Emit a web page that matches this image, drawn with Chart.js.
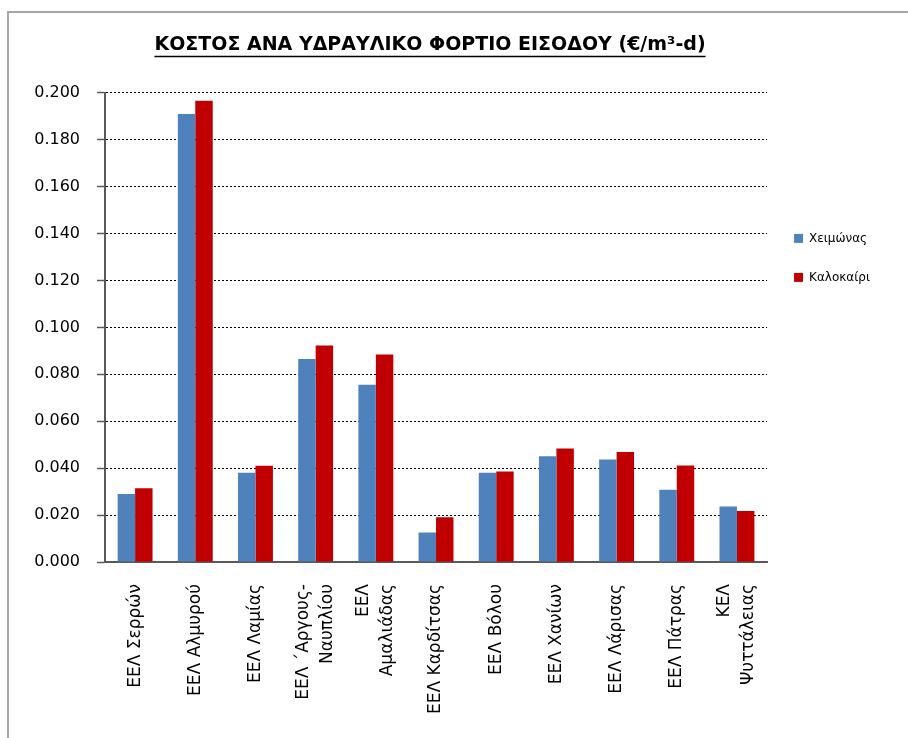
<!DOCTYPE html>
<html>
<head>
<meta charset="utf-8">
<script src="https://cdn.jsdelivr.net/npm/chart.js@4/dist/chart.umd.min.js"></script>
<style>
  html, body { margin: 0; padding: 0; background: #fff; overflow: hidden; }
  #frame {
    position: absolute; left: 7px; top: 11px; width: 930px; height: 760px;
    border-left: 2px solid #a6a6a6; border-top: 2px solid #a6a6a6;
  }
  #costChart { position: absolute; left: 0; top: 0; }
</style>
</head>
<body>
<div id="frame"></div>
<canvas id="costChart" width="908" height="738"></canvas>
<script>
// plants (multi-line names are split into arrays)
const plants = [
  'ΕΕΛ Σερρών',
  'ΕΕΛ Αλμυρού',
  'ΕΕΛ Λαμίας',
  ['ΕΕΛ ΄Αργους-', 'Ναυπλίου'],
  ['ΕΕΛ', 'Αμαλιάδας'],
  'ΕΕΛ Καρδίτσας',
  'ΕΕΛ Βόλου',
  'ΕΕΛ Χανίων',
  'ΕΕΛ Λάρισας',
  'ΕΕΛ Πάτρας',
  ['ΚΕΛ', 'Ψυττάλειας']
];

// cost per inflow, €/m3-d
const winter = [0.029, 0.191, 0.038, 0.0865, 0.0756, 0.0126, 0.038, 0.0451, 0.0437, 0.0308, 0.0237];
const summer = [0.0314, 0.1966, 0.041, 0.0923, 0.0884, 0.0191, 0.0386, 0.0484, 0.0469, 0.0411, 0.0217];

const yTicks = [0, 0.02, 0.04, 0.06, 0.08, 0.1, 0.12, 0.14, 0.16, 0.18, 0.2];

const titleText = 'ΚΟΣΤΟΣ ΑΝΑ ΥΔΡΑΥΛΙΚΟ ΦΟΡΤΙΟ ΕΙΣΟΔΟΥ (€/m³-d)';
const titleFont = { family: 'DejaVu Sans', size: 19, weight: 'bold' };

const xFontSize = 17;
const xLineHeight = 1.4;

// title is centred a bit left of the canvas centre and underlined
const titleUnderline = {
  id: 'titleUnderline',
  afterLayout(chart) {
    const tb = chart.titleBlock;
    tb.left = 0;
    tb.right = 860;
  },
  afterDraw(chart) {
    const tb = chart.titleBlock;
    const ctx = chart.ctx;
    ctx.save();
    ctx.font = `${titleFont.weight} ${titleFont.size}px "${titleFont.family}"`;
    const w = ctx.measureText(titleText).width;
    const cx = (tb.left + tb.right) / 2;
    const cy = tb.top + tb.options.padding.top + titleFont.size * 1.2 / 2;
    const y = Math.round(cy + titleFont.size * 0.55) + 0.5;
    ctx.strokeStyle = '#000';
    ctx.lineWidth = 1.5;
    ctx.beginPath();
    ctx.moveTo(cx - w / 2, y);
    ctx.lineTo(cx + w / 2, y);
    ctx.stroke();
    ctx.restore();
  }
};

// rotated two-line labels: centre the line block on the tick
const centerMultiline = {
  id: 'centerMultiline',
  beforeDraw(chart) {
    const items = chart.scales.x.getLabelItems();
    items.forEach(it => {
      if (Array.isArray(it.label) && !it._centered) {
        it.options.translation[0] -= (it.label.length - 1) * xFontSize * xLineHeight / 2;
        it._centered = true;
      }
    });
  }
};

const ctx = document.getElementById('costChart').getContext('2d');
new Chart(ctx, {
  type: 'bar',
  data: {
    labels: plants,
    datasets: [
      {
        label: 'Χειμώνας',
        data: winter,
        backgroundColor: '#4F81BD',
        categoryPercentage: 0.58,
        barPercentage: 1.0
      },
      {
        label: 'Καλοκαίρι',
        data: summer,
        backgroundColor: '#C00000',
        categoryPercentage: 0.58,
        barPercentage: 1.0
      }
    ]
  },
  options: {
    responsive: false,
    animation: false,
    layout: { padding: { left: 0, right: 28, top: 12, bottom: 0 } },
    plugins: {
      title: {
        display: true,
        text: titleText,
        color: '#000',
        font: titleFont,
        padding: { top: 22, bottom: 36 }
      },
      legend: {
        position: 'right',
        align: 'start',
        title: {
          display: true,
          text: ' ',
          font: { family: 'DejaVu Sans', size: 12 },
          padding: { top: 179, bottom: 0 }
        },
        labels: {
          boxWidth: 9,
          boxHeight: 9,
          padding: 27,
          color: '#000',
          font: { family: 'DejaVu Sans', size: 12 }
        }
      },
      tooltip: { enabled: false }
    },
    scales: {
      x: {
        grid: { display: false, drawTicks: false },
        border: { color: '#595959', width: 2 },
        ticks: {
          color: '#000',
          font: { family: 'DejaVu Sans', size: xFontSize, lineHeight: xLineHeight },
          minRotation: 90,
          maxRotation: 90,
          autoSkip: false,
          padding: 22
        },
        afterFit(s) { s.height = 176; }
      },
      y: {
        min: 0,
        max: 0.2,
        afterBuildTicks(s) { s.ticks = yTicks.map(v => ({ value: v })); },
        grid: {
          color: '#000',
          lineWidth: 1,
          tickLength: 8,
          tickColor: '#595959',
          tickWidth: 1.5,
          tickBorderDash: []
        },
        border: { color: '#595959', width: 2, dash: [2, 2] },
        ticks: {
          color: '#000',
          font: { family: 'DejaVu Sans', size: 16 },
          padding: 17,
          callback: v => v.toFixed(3)
        },
        afterFit(s) { s.width = 105; }
      }
    }
  },
  plugins: [titleUnderline, centerMultiline]
});
</script>
</body>
</html>
